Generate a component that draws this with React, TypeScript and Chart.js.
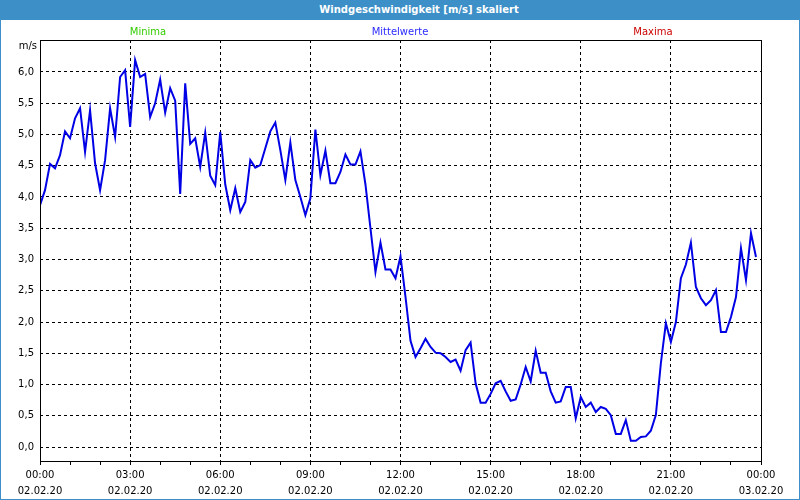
import React, { useEffect, useRef } from "react";
import { Chart, registerables } from "chart.js";

Chart.register(...registerables);

// ---- data ----
const chartTitle = "Windgeschwindigkeit [m/s] skaliert";
const unitLabel = "m/s";
const seriesNames = ["Minima", "Mittelwerte", "Maxima"];
const seriesColors = ["#33cc00", "#2a2aff", "#cc0000"];
const intervalMinutes = 10;
// Mittelwerte, 10-minute values from 00:00 to 23:50 (02.02.20)
const mittelwerte = [
  3.87, 4.11, 4.53, 4.46, 4.67, 5.05, 4.94, 5.26, 5.42, 4.72, 5.39, 4.54,
  4.11, 4.59, 5.42, 4.96, 5.92, 6.03, 5.12, 6.19, 5.92, 5.97, 5.28, 5.5,
  5.88, 5.35, 5.74, 5.54, 4.05, 5.82, 4.85, 4.94, 4.48, 5.03, 4.34, 4.19,
  5.04, 4.2, 3.79, 4.14, 3.76, 3.92, 4.59, 4.47, 4.51, 4.78, 5.05, 5.19,
  4.75, 4.27, 4.87, 4.27, 4.0, 3.71, 3.98, 5.08, 4.35, 4.74, 4.22, 4.22,
  4.4, 4.68, 4.52, 4.52, 4.73, 4.2, 3.5, 2.8, 3.27, 2.84, 2.84, 2.7,
  3.05, 2.4, 1.7, 1.44, 1.58, 1.73, 1.6, 1.51, 1.5, 1.44, 1.36, 1.4,
  1.22, 1.55, 1.67, 1.02, 0.71, 0.71, 0.85, 1.02, 1.06, 0.89, 0.74, 0.76,
  1.0, 1.28, 1.05, 1.54, 1.19, 1.19, 0.89, 0.71, 0.73, 0.96, 0.96, 0.46,
  0.8, 0.64, 0.71, 0.56, 0.64, 0.61, 0.51, 0.21, 0.21, 0.43, 0.1, 0.1,
  0.16, 0.17, 0.26, 0.51, 1.34, 1.98, 1.68, 2.0, 2.7, 2.92, 3.27, 2.56,
  2.38, 2.27, 2.35, 2.51, 1.84, 1.84, 2.08, 2.4, 3.18, 2.67, 3.42, 3.04,
];
const minima: number[] = [];
const maxima: number[] = [];
const yTicks = [0, 0.5, 1, 1.5, 2, 2.5, 3, 3.5, 4, 4.5, 5, 5.5, 6];
const xTickTimes = ["00:00", "03:00", "06:00", "09:00", "12:00", "15:00", "18:00", "21:00", "00:00"];
const xTickDates = ["02.02.20", "02.02.20", "02.02.20", "02.02.20", "02.02.20", "02.02.20", "02.02.20", "02.02.20", "03.02.20"];
const xMaxMinutes = 1440;
const yMin = -0.224;
const yMax = 6.512;

const FONT = "'DejaVu Sans', Verdana, sans-serif";
const BAR_BLUE = "#3c8fc7";

const framePlugin = {
  id: "frame",
  afterDraw(chart: any) {
    const { ctx, chartArea } = chart;
    ctx.save();
    ctx.strokeStyle = "#000";
    ctx.lineWidth = 1;
    ctx.setLineDash([]);
    const l = Math.round(chartArea.left) + 0.5;
    const r = Math.round(chartArea.right) + 0.5;
    const t = Math.round(chartArea.top) + 0.5;
    const b = Math.round(chartArea.bottom) + 0.5;
    ctx.strokeRect(l, t, r - l, b - t);
    ctx.restore();
  },
};

export default function App() {
  const ref = useRef<HTMLCanvasElement | null>(null);

  useEffect(() => {
    if (!ref.current) return;
    const toPoints = (arr: number[]) => arr.map((v, i) => ({ x: i * intervalMinutes, y: v }));
    const chart = new Chart(ref.current, {
      type: "line",
      data: {
        datasets: [
          { label: seriesNames[0], data: toPoints(minima), borderColor: seriesColors[0], borderWidth: 2, pointRadius: 0 },
          { label: seriesNames[1], data: toPoints(mittelwerte), borderColor: "#0000e6", borderWidth: 2, pointRadius: 0, tension: 0 },
          { label: seriesNames[2], data: toPoints(maxima), borderColor: seriesColors[2], borderWidth: 2, pointRadius: 0 },
        ],
      },
      options: {
        animation: false,
        responsive: false,
        maintainAspectRatio: false,
        layout: { padding: { left: 0, top: 40, right: 39, bottom: 0 } },
        plugins: { legend: { display: false }, title: { display: false }, tooltip: { enabled: false } },
        scales: {
          x: {
            type: "linear",
            min: 0,
            max: xMaxMinutes,
            afterFit: (s: any) => { s.height = 39; },
            ticks: {
              stepSize: 60,
              autoSkip: false,
              maxRotation: 0,
              padding: 3,
              color: "#000",
              font: { family: FONT, size: 10, lineHeight: 1.55 },
              callback: (v: any) => {
                const n = Number(v);
                if (n % 180 !== 0) return "";
                const k = n / 180;
                return [xTickTimes[k], xTickDates[k]];
              },
            },
            grid: {
              color: (c: any) => (c.tick && c.tick.value % 180 === 0 ? "#000" : "rgba(0,0,0,0)"),
              tickColor: "#000",
              tickLength: 4,
              lineWidth: 1,
            },
            border: { display: false, dash: [3, 3] },
          },
          y: {
            type: "linear",
            min: yMin,
            max: yMax,
            afterFit: (s: any) => { s.width = 40; },
            afterBuildTicks: (s: any) => { s.ticks = yTicks.map((v) => ({ value: v })); },
            ticks: {
              padding: 6,
              color: "#000",
              font: { family: FONT, size: 10 },
              callback: (v: any) => Number(v).toFixed(1).replace(".", ","),
            },
            grid: { color: "#000", drawTicks: false, lineWidth: 1 },
            border: { display: false, dash: [3, 3] },
          },
        },
      },
      plugins: [framePlugin],
    });
    return () => chart.destroy();
  }, []);

  const labelCenters = [148, 400, 653];

  return (
    <div style={{ position: "fixed", left: 0, top: 0, width: 800, height: 500, background: "#fff", fontFamily: FONT }}>
      <canvas ref={ref} width={800} height={500} style={{ position: "absolute", left: 0, top: 0 }} />
      <div
        style={{
          position: "absolute", left: 0, top: 0, width: 800, height: 20, background: BAR_BLUE,
          color: "#fff", fontWeight: "bold", fontSize: 10, lineHeight: "20px", textAlign: "center",
          boxSizing: "border-box", paddingLeft: 38,
        }}
      >
        {chartTitle}
      </div>
      {seriesNames.map((n, i) => (
        <div
          key={n}
          style={{
            position: "absolute", left: labelCenters[i] - 60, width: 120, top: 25, textAlign: "center",
            fontSize: 10, lineHeight: "14px", color: seriesColors[i],
          }}
        >
          {n}
        </div>
      ))}
      <div style={{ position: "absolute", right: 763, top: 39, fontSize: 10, lineHeight: "14px", color: "#000" }}>
        {unitLabel}
      </div>
      <div
        style={{
          position: "absolute", left: 0, top: 0, width: 800, height: 500, boxSizing: "border-box",
          border: `1px solid ${BAR_BLUE}`, pointerEvents: "none",
        }}
      />
    </div>
  );
}
